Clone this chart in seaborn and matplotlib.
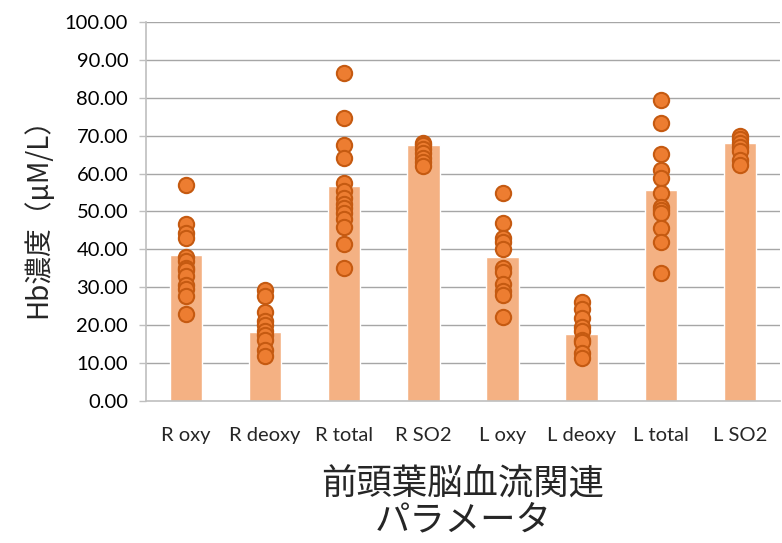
import numpy as np
import pandas as pd
import matplotlib
matplotlib.use("Agg")
import matplotlib.pyplot as plt
import seaborn as sns

categories = ["R oxy", "R deoxy", "R total", "R SO2", "L oxy", "L deoxy", "L total", "L SO2"]

# bar heights (group means)
bar_values = [38.5, 18.2, 56.8, 67.5, 38.0, 17.7, 55.8, 68.0]

# individual measurements per parameter
r_oxy = [57.0, 46.8, 44.2, 43.0, 38.0, 37.0, 35.2, 34.5, 33.0, 30.5, 29.5, 27.8, 23.0]
r_deoxy = [29.3, 27.7, 23.4, 21.0, 20.0, 18.5, 17.5, 16.0, 13.5, 11.8]
r_total = [86.5, 74.8, 67.5, 64.0, 57.5, 55.5, 53.5, 52.0, 51.0, 49.5, 48.0, 46.0, 41.5, 35.0]
r_so2 = [68.0, 67.5, 66.5, 65.5, 64.0, 63.0, 62.0]
l_oxy = [55.0, 47.0, 43.0, 42.0, 40.0, 35.0, 34.0, 31.0, 29.0, 28.0, 22.2]
l_deoxy = [26.0, 24.2, 22.0, 19.5, 18.5, 16.0, 15.5, 12.7, 11.3]
l_total = [79.3, 73.3, 65.3, 61.0, 58.8, 55.0, 51.3, 50.3, 49.5, 45.6, 41.9, 33.7]
l_so2 = [69.8, 69.0, 68.0, 67.0, 66.0, 63.5, 62.3]

y_ticks = [0, 10, 20, 30, 40, 50, 60, 70, 80, 90, 100]

points = [r_oxy, r_deoxy, r_total, r_so2, l_oxy, l_deoxy, l_total, l_so2]
pts = pd.DataFrame(
    [(c, v) for c, vals in zip(categories, points) for v in vals],
    columns=["param", "value"],
)
bars = pd.DataFrame({"param": categories, "value": bar_values})

sns.set_style("white")
plt.rcParams["font.family"] = ["Lato", "Noto Sans CJK JP", "DejaVu Sans"]

fig = plt.figure(figsize=(7.82, 5.43), dpi=100)
ax = fig.add_axes([0.187, 0.2615, 0.81, 0.698])

grid_c = "#A6A6A6"
for t in y_ticks[1:]:
    ax.axhline(t, color=grid_c, lw=1.0, zorder=0)

sns.barplot(data=bars, x="param", y="value", order=categories, color="#F4B183",
            saturation=1, width=0.41, ax=ax, zorder=1)
sns.stripplot(data=pts, x="param", y="value", order=categories, jitter=False,
              color="#ED7D31", edgecolor="#C55A11", linewidth=1.5, size=11,
              ax=ax, zorder=3)

ax.set_xlim(-0.5, len(categories) - 0.5)
ax.set_ylim(0, 100)
ax.set_yticks(y_ticks)
ax.set_yticklabels([f"{t:.2f}" for t in y_ticks], fontsize=14.5, color="#000000")
ax.set_xticks(range(len(categories)))
ax.set_xticklabels(categories, fontsize=14.5)
ax.set_xticks(np.arange(-0.5, len(categories)), minor=True)
ax.tick_params(axis="x", which="major", length=0, pad=19)
ax.tick_params(axis="x", which="minor", length=6, color="#BFBFBF", width=1)
ax.tick_params(axis="y", which="major", length=5, color="#BFBFBF", width=1, pad=8, direction="out", left=True)

for side in ["top", "right"]:
    ax.spines[side].set_visible(False)
for side in ["left", "bottom"]:
    ax.spines[side].set_color("#BFBFBF")
    ax.spines[side].set_linewidth(1.2)

ax.set_xlabel("前頭葉脳血流関連\nパラメータ", fontsize=25.5, family=["Noto Sans CJK JP"],
              labelpad=16, linespacing=1.0)
ax.set_ylabel("Hb濃度（μM/L）", fontsize=20, family=["Noto Sans CJK JP", "DejaVu Sans"],
              labelpad=8)

fig.savefig("out.png", dpi=100)
